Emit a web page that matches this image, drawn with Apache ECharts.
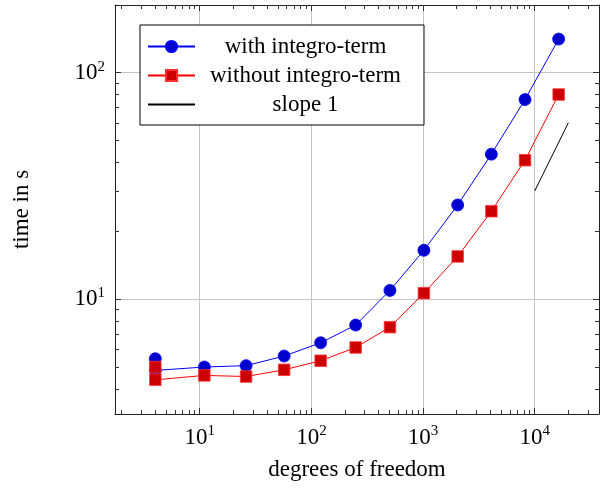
<!doctype html>
<html>
<head>
    <meta charset="utf-8">
    <title>time vs dof</title>
    <style>
        html, body { margin: 0; padding: 0; background: #fff; }
        #main { width: 601px; height: 488px; }
    </style>
</head>
<body>
    <div id="main"></div>
</body>
</html>
<script type="text/javascript" src="https://cdn.jsdelivr.net/npm/echarts@6/dist/echarts.min.js"></script>
<script type="text/javascript">
    // degrees of freedom (first size measured twice)
    var dof = [4, 4, 11, 26, 57, 121, 249, 505, 1017, 2041, 4089, 8185, 16377];
    var withIntegro = [5.44, 4.83, 5.00, 5.07, 5.59, 6.40, 7.66, 10.9, 16.4, 26.0, 43.6, 76.0, 140.6];
    var withoutIntegro = [5.00, 4.39, 4.59, 4.54, 4.86, 5.33, 6.10, 7.50, 10.6, 15.4, 24.4, 41.0, 80.0];
    var slopeX = [10000, 20000];
    var slopeY = [30, 60];

    var xMajor = [10, 100, 1000, 10000];
    var xMinor = [2, 3, 4, 5, 6, 7, 8, 9, 20, 30, 40, 50, 60, 70, 80, 90, 200, 300, 400, 500, 600, 700, 800, 900,
        2000, 3000, 4000, 5000, 6000, 7000, 8000, 9000, 20000, 30000];
    var yMajor = [10, 100];
    var yMinor = [4, 5, 6, 7, 8, 9, 20, 30, 40, 50, 60, 70, 80, 90];

    var font = '"Liberation Serif", "DejaVu Serif", serif';

    function pair(xs, ys) {
        return xs.map(function (x, i) { return [x, ys[i]]; });
    }

    function powLabel(v) {
        return '10{s|' + Math.round(Math.log10(v)) + '}';
    }

    var labelStyle = {
        fontFamily: font,
        fontSize: 23,
        color: '#000',
        formatter: powLabel,
        rich: {
            s: { fontFamily: font, fontSize: 15, padding: [0, 0, 12, 0], color: '#000' }
        }
    };

    function axisSet(kind, min, max, major, minor) {
        var pos = kind === 'x' ? ['bottom', 'top'] : ['left', 'right'];
        var list = [];
        pos.forEach(function (p, k) {
            // major ticks, labels, grid
            list.push({
                type: 'log', logBase: 10, min: min, max: max, position: p,
                axisLine: { show: true, onZero: false, lineStyle: { color: '#222', width: 1 } },
                axisTick: { show: true, inside: true, length: 6, customValues: major, lineStyle: { color: '#333' } },
                axisLabel: k === 0 ? Object.assign({ show: true, customValues: major, margin: 10 }, labelStyle) : { show: false },
                splitLine: { show: k === 0, lineStyle: { color: '#c4c4c4', width: 1 } },
                minorTick: { show: false }, minorSplitLine: { show: false }
            });
            // minor ticks
            list.push({
                type: 'log', logBase: 10, min: min, max: max, position: p,
                axisLine: { show: false },
                axisTick: { show: true, inside: true, length: 4, customValues: minor, lineStyle: { color: '#333' } },
                axisLabel: { show: false, customValues: minor },
                splitLine: { show: false }
            });
        });
        return list;
    }

    var xAxes = axisSet('x', 1.742, 37630, xMajor, xMinor);
    xAxes[0].name = 'degrees of freedom';
    xAxes[0].nameLocation = 'middle';
    xAxes[0].nameGap = 44;
    xAxes[0].nameTextStyle = { fontFamily: font, fontSize: 23, color: '#000' };

    var yAxes = axisSet('y', 3.10, 198.9, yMajor, yMinor);
    yAxes[0].name = 'time in s';
    yAxes[0].nameLocation = 'middle';
    yAxes[0].nameGap = 82;
    yAxes[0].nameTextStyle = { fontFamily: font, fontSize: 23, color: '#000' };

    var legendRich = {
        c: { fontFamily: font, fontSize: 23, width: 211, align: 'center', color: '#000' }
    };

    var myChart = echarts.init(document.getElementById('main'), null, { renderer: 'canvas' });

    var option = {
        animation: false,
        grid: { left: 115, top: 5, width: 484, height: 409, containLabel: false },
        xAxis: xAxes,
        yAxis: yAxes,
        legend: {
            left: 140, top: 25,
            orient: 'vertical',
            backgroundColor: '#fff',
            borderColor: '#000',
            borderWidth: 1,
            borderRadius: 0,
            padding: [10, 23, 9, 7],
            itemWidth: 47,
            itemHeight: 14,
            itemGap: 6,
            formatter: function (name) { return '{c|' + name + '}'; },
            textStyle: { rich: legendRich },
            data: ['with integro-term', 'without integro-term', 'slope 1']
        },
        series: [{
            name: 'with integro-term',
            type: 'line',
            data: pair(dof, withIntegro),
            symbol: 'circle',
            symbolSize: 12,
            lineStyle: { color: '#0000ff', width: 1 },
            itemStyle: { color: '#0000cc', borderColor: '#0000ff', borderWidth: 0.8 },
            z: 3
        }, {
            name: 'without integro-term',
            type: 'line',
            data: pair(dof, withoutIntegro),
            symbol: 'rect',
            symbolSize: 11.5,
            lineStyle: { color: '#ff0000', width: 1 },
            itemStyle: { color: '#cc0000', borderColor: '#ff3030', borderWidth: 0.8 },
            z: 4
        }, {
            name: 'slope 1',
            type: 'line',
            data: pair(slopeX, slopeY),
            showSymbol: false,
            lineStyle: { color: '#000', width: 1 },
            itemStyle: { color: '#000', opacity: 0 },
            z: 3
        }]
    };

    myChart.setOption(option);
</script>
